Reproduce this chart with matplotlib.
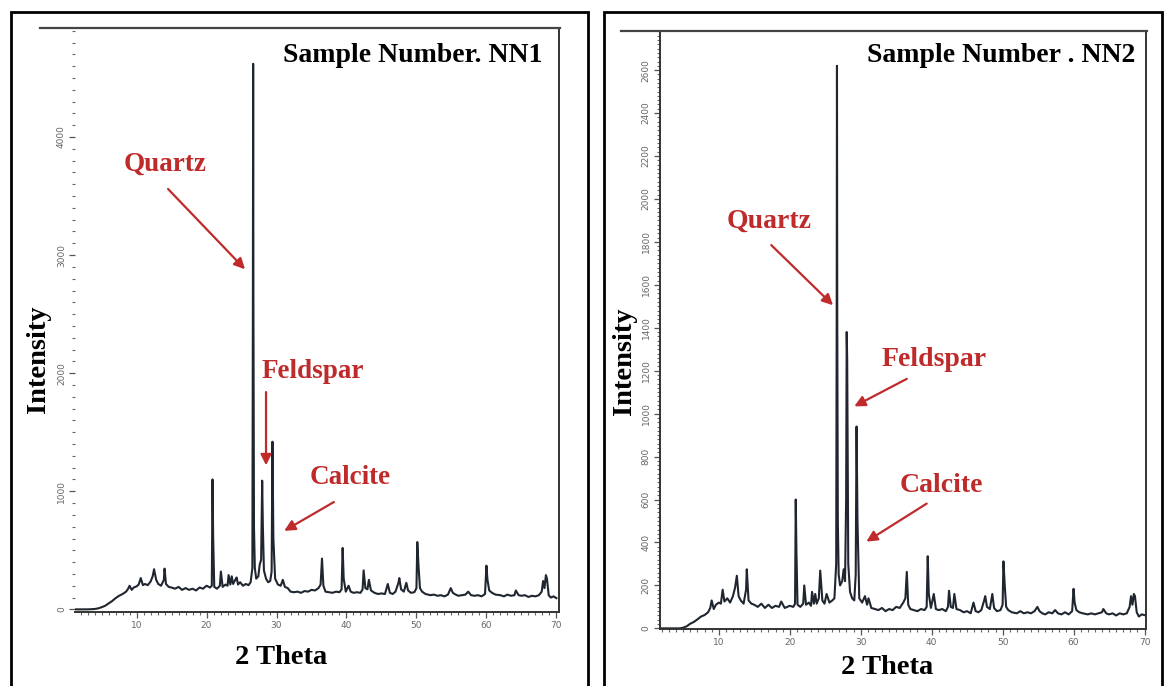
import matplotlib
matplotlib.use("Agg")
import matplotlib.pyplot as plt
from matplotlib.lines import Line2D
from matplotlib.patches import Rectangle
from matplotlib.ticker import MultipleLocator

# ---- data ----
theta_nn1 = [1.2, 3, 4, 4.5, 5, 5.5, 6, 6.5, 7, 7.5,
             8, 8.5, 8.8, 9.0, 9.3, 9.6, 10, 10.3, 10.6, 10.9,
             11.2, 11.6, 12, 12.3, 12.5, 12.8, 13.1, 13.5, 13.9, 14.0,
             14.2, 14.6, 15, 15.5, 16, 16.5, 17, 17.5, 18, 18.5,
             19, 19.5, 20, 20.5, 20.75, 20.85, 20.95, 21.1, 21.5, 21.9,
             22.05, 22.3, 22.7, 23.0, 23.15, 23.4, 23.6, 23.8, 24.1, 24.3,
             24.5, 24.8, 25.2, 25.6, 26.0, 26.3, 26.55, 26.62, 26.66, 26.7,
             26.78, 26.9, 27.1, 27.4, 27.6, 27.8, 27.95, 28.05, 28.2, 28.5,
             28.8, 29.1, 29.3, 29.42, 29.55, 29.8, 30.2, 30.6, 30.9, 31.2,
             31.6, 32, 32.5, 33, 33.5, 34, 34.5, 35, 35.5, 36,
             36.3, 36.5, 36.7, 37, 37.5, 38, 38.5, 39, 39.3, 39.45,
             39.6, 39.9, 40.3, 40.6, 41, 41.5, 42, 42.3, 42.45, 42.7,
             43, 43.2, 43.5, 44, 44.5, 45, 45.5, 45.9, 46.2, 46.6,
             47, 47.4, 47.55, 47.8, 48.2, 48.55, 48.8, 49.2, 49.7, 50.0,
             50.12, 50.3, 50.5, 50.8, 51.3, 52, 52.5, 53, 53.5, 54,
             54.5, 54.9, 55.2, 55.6, 56, 56.5, 57, 57.4, 57.8, 58.3,
             58.8, 59.3, 59.8, 60.0, 60.15, 60.4, 60.8, 61.3, 62, 62.5,
             63, 63.5, 64.0, 64.2, 64.6, 65, 65.5, 66, 66.5, 67,
             67.5, 67.9, 68.1, 68.3, 68.5, 68.65, 68.9, 69.2, 69.6, 70]
int_nn1 = [0, 0, 3, 8, 18, 30, 50, 70, 95, 115,
           130, 150, 175, 200, 165, 185, 195, 210, 265, 205,
           215, 205, 235, 280, 340, 250, 215, 200, 250, 345,
           215, 190, 185, 175, 190, 165, 180, 165, 175, 160,
           185, 175, 200, 185, 200, 1100, 600, 190, 175, 200,
           320, 190, 210, 200, 290, 210, 280, 215, 250, 270,
           210, 230, 200, 215, 205, 230, 350, 2500, 4620, 2550,
           700, 350, 260, 280, 380, 420, 1090, 700, 330, 260,
           230, 240, 320, 1420, 600, 260, 210, 200, 250, 190,
           180, 150, 145, 150, 140, 155, 150, 165, 160, 180,
           210, 430, 200, 150, 145, 140, 150, 145, 170, 520,
           260, 150, 200, 150, 140, 145, 140, 170, 330, 180,
           170, 250, 160, 140, 130, 135, 130, 215, 140, 130,
           150, 220, 265, 170, 150, 225, 160, 140, 145, 180,
           570, 360, 180, 150, 130, 120, 125, 115, 120, 110,
           125, 180, 140, 125, 115, 120, 125, 150, 120, 115,
           120, 110, 130, 370, 250, 160, 140, 125, 120, 110,
           125, 115, 120, 160, 120, 115, 120, 105, 115, 110,
           120, 150, 240, 180, 290, 260, 120, 100, 110, 95]

theta_nn2 = [1.65, 3, 4, 4.5, 5, 5.5, 6, 6.5, 7, 7.5,
             8, 8.5, 8.8, 9.0, 9.3, 9.6, 10, 10.3, 10.55, 10.8,
             11.2, 11.6, 12, 12.3, 12.55, 12.8, 13.1, 13.5, 13.85, 13.95,
             14.2, 14.6, 15, 15.5, 16, 16.5, 17, 17.5, 18, 18.5,
             18.8, 19.3, 20, 20.5, 20.75, 20.85, 20.95, 21.1, 21.5, 21.9,
             22.05, 22.3, 22.7, 23.0, 23.15, 23.4, 23.6, 23.8, 24.1, 24.3,
             24.6, 24.9, 25.2, 25.6, 26.0, 26.3, 26.55, 26.62, 26.66, 26.7,
             26.78, 26.9, 27.1, 27.4, 27.6, 27.8, 27.95, 28.03, 28.1, 28.25,
             28.5, 28.8, 29.1, 29.3, 29.42, 29.55, 29.8, 30.2, 30.6, 30.9,
             31.1, 31.5, 32, 32.5, 33, 33.5, 34, 34.5, 35, 35.5,
             36, 36.3, 36.5, 36.7, 37, 37.5, 38, 38.5, 39, 39.3,
             39.45, 39.6, 39.9, 40.3, 40.6, 41, 41.5, 42, 42.3, 42.45,
             42.7, 43, 43.2, 43.5, 44, 44.5, 45, 45.5, 45.9, 46.2,
             46.6, 47, 47.4, 47.55, 47.8, 48.2, 48.55, 48.8, 49.2, 49.7,
             50.0, 50.12, 50.3, 50.5, 50.8, 51.3, 52, 52.5, 53, 53.5,
             54, 54.5, 54.9, 55.2, 55.6, 56, 56.5, 57, 57.4, 57.8,
             58.3, 58.8, 59.3, 59.8, 60.0, 60.15, 60.4, 60.8, 61.3, 62,
             62.5, 63, 63.5, 64.0, 64.2, 64.6, 65, 65.5, 66, 66.5,
             67, 67.5, 67.9, 68.1, 68.3, 68.5, 68.65, 68.9, 69.2, 69.6,
             70.2]
int_nn2 = [0, 0, 0, 0, 3, 10, 22, 30, 42, 55,
           62, 75, 95, 130, 90, 110, 120, 115, 180, 125,
           140, 120, 150, 190, 245, 150, 130, 115, 180, 275,
           130, 115, 110, 100, 115, 95, 110, 95, 105, 100,
           125, 95, 105, 100, 115, 600, 350, 110, 100, 115,
           200, 110, 120, 105, 170, 115, 160, 115, 140, 269,
           130, 115, 160, 120, 130, 140, 300, 1450, 2620, 1450,
           500, 250, 200, 220, 275, 220, 600, 1380, 1250, 300,
           170, 140, 130, 250, 940, 500, 140, 120, 150, 110,
           140, 95, 90, 85, 95, 80, 90, 85, 100, 95,
           120, 140, 263, 110, 90, 85, 80, 90, 85, 100,
           336, 160, 95, 160, 90, 85, 90, 80, 100, 175,
           100, 95, 160, 90, 85, 75, 80, 70, 120, 80,
           75, 85, 130, 150, 100, 90, 160, 95, 80, 85,
           110, 312, 200, 100, 85, 75, 70, 80, 70, 75,
           70, 80, 100, 80, 70, 65, 75, 70, 85, 70,
           65, 75, 65, 80, 184, 120, 85, 75, 70, 65,
           70, 65, 70, 75, 90, 70, 65, 70, 60, 70,
           65, 70, 100, 150, 110, 160, 150, 75, 55, 65,
           60]

W, H = 1164, 686
RED = "#bf2a2b"
SERIF = ["Liberation Serif", "DejaVu Serif"]


def fx(px):
    return px / W


def fy(py):
    return 1 - py / H


fig = plt.figure(figsize=(W / 100, H / 100), dpi=100)
fig.patch.set_facecolor("white")

# panel borders (bottom edge runs off the page)
for x0, x1 in [(11, 588), (604, 1162)]:
    fig.add_artist(Rectangle((fx(x0), fy(700)), fx(x1 - x0), (700 - 12) / H,
                             transform=fig.transFigure, fill=False,
                             edgecolor="black", linewidth=2))


def setup(ax, ylim, ymaj, ymin, left_spine):
    ax.set_ylim(*ylim)
    ax.spines["top"].set_visible(False)
    ax.spines["left"].set_visible(left_spine)
    for s in ["bottom", "right", "left"]:
        ax.spines[s].set_color("#333333")
        ax.spines[s].set_linewidth(1.4)
    ax.xaxis.set_major_locator(MultipleLocator(10))
    ax.xaxis.set_minor_locator(MultipleLocator(1))
    ax.yaxis.set_major_locator(MultipleLocator(ymaj))
    ax.yaxis.set_minor_locator(MultipleLocator(ymin))
    ax.tick_params(axis="both", which="major", length=4.5, width=0.9,
                   color="#555555", labelsize=6.5, labelcolor="#666666", pad=2)
    ax.tick_params(axis="both", which="minor", length=2.5, width=0.8,
                   color="#666666")
    for lab in ax.get_yticklabels():
        lab.set_rotation(90)
        lab.set_va("center")
    ax.set_facecolor("none")


arrow = dict(arrowstyle="-|>", color=RED, lw=1.6, mutation_scale=16,
             shrinkA=0, shrinkB=0)

# ---- left panel (NN1) ----
ax1 = fig.add_axes([fx(75), fy(611.6), fx(558.5 - 75), (611.6 - 28.4) / H])
ax1.plot(theta_nn1, int_nn1, color="#1f2630", linewidth=1.5)
ax1.set_xlim(1.2, 70.3)
setup(ax1, (-19, 4920), 1000, 100, False)
fig.add_artist(Line2D([fx(40), fx(559.5)], [fy(28.4), fy(28.4)],
                      transform=fig.transFigure, color="#444444", lw=1.6))

fig.text(fx(542), fy(55), "Sample Number. NN1", ha="right", va="center",
         family=SERIF, weight="bold", fontsize=20)
fig.text(fx(38), fy(359), "Intensity", rotation=90, ha="center", va="center",
         family=SERIF, weight="bold", fontsize=20.5)
fig.text(fx(281), fy(658), "2 Theta", ha="center", va="center",
         family=SERIF, weight="bold", fontsize=20.5)
fig.text(fx(165.5), fy(164), "Quartz", ha="center", va="center",
         family=SERIF, weight="bold", fontsize=19.5, color=RED)
fig.text(fx(313), fy(371), "Feldspar", ha="center", va="center",
         family=SERIF, weight="bold", fontsize=19.5, color=RED)
fig.text(fx(350), fy(478), "Calcite", ha="center", va="center",
         family=SERIF, weight="bold", fontsize=19.5, color=RED)

ax1.annotate("", xy=(25.5, 2880), xytext=(14.5, 3560), arrowprops=arrow)
ax1.annotate("", xy=(28.5, 1220), xytext=(28.5, 1840), arrowprops=arrow)
ax1.annotate("", xy=(31.1, 665), xytext=(38.2, 909), arrowprops=arrow)

# ---- right panel (NN2) ----
ax2 = fig.add_axes([fx(659.5), fy(629), fx(1146.3 - 659.5), (629 - 30.6) / H])
ax2.plot(theta_nn2, int_nn2, color="#1f2630", linewidth=1.5)
ax2.set_xlim(1.65, 70.25)
setup(ax2, (-3, 2784), 200, 20, True)
fig.add_artist(Line2D([fx(621), fx(1146.5)], [fy(30.6), fy(30.6)],
                      transform=fig.transFigure, color="#444444", lw=1.6))

fig.text(fx(1135), fy(55), "Sample Number . NN2", ha="right", va="center",
         family=SERIF, weight="bold", fontsize=20)
fig.text(fx(625), fy(361), "Intensity", rotation=90, ha="center", va="center",
         family=SERIF, weight="bold", fontsize=20.5)
fig.text(fx(887), fy(667), "2 Theta", ha="center", va="center",
         family=SERIF, weight="bold", fontsize=20.5)
fig.text(fx(769), fy(221), "Quartz", ha="center", va="center",
         family=SERIF, weight="bold", fontsize=20, color=RED)
fig.text(fx(934), fy(360), "Feldspar", ha="center", va="center",
         family=SERIF, weight="bold", fontsize=20, color=RED)
fig.text(fx(941), fy(486), "Calcite", ha="center", va="center",
         family=SERIF, weight="bold", fontsize=20, color=RED)

ax2.annotate("", xy=(26.1, 1505), xytext=(17.4, 1785), arrowprops=arrow)
ax2.annotate("", xy=(29.1, 1034), xytext=(36.5, 1162), arrowprops=arrow)
ax2.annotate("", xy=(30.8, 404), xytext=(39.3, 581), arrowprops=arrow)

fig.savefig("out.png", dpi=100, facecolor="white")
